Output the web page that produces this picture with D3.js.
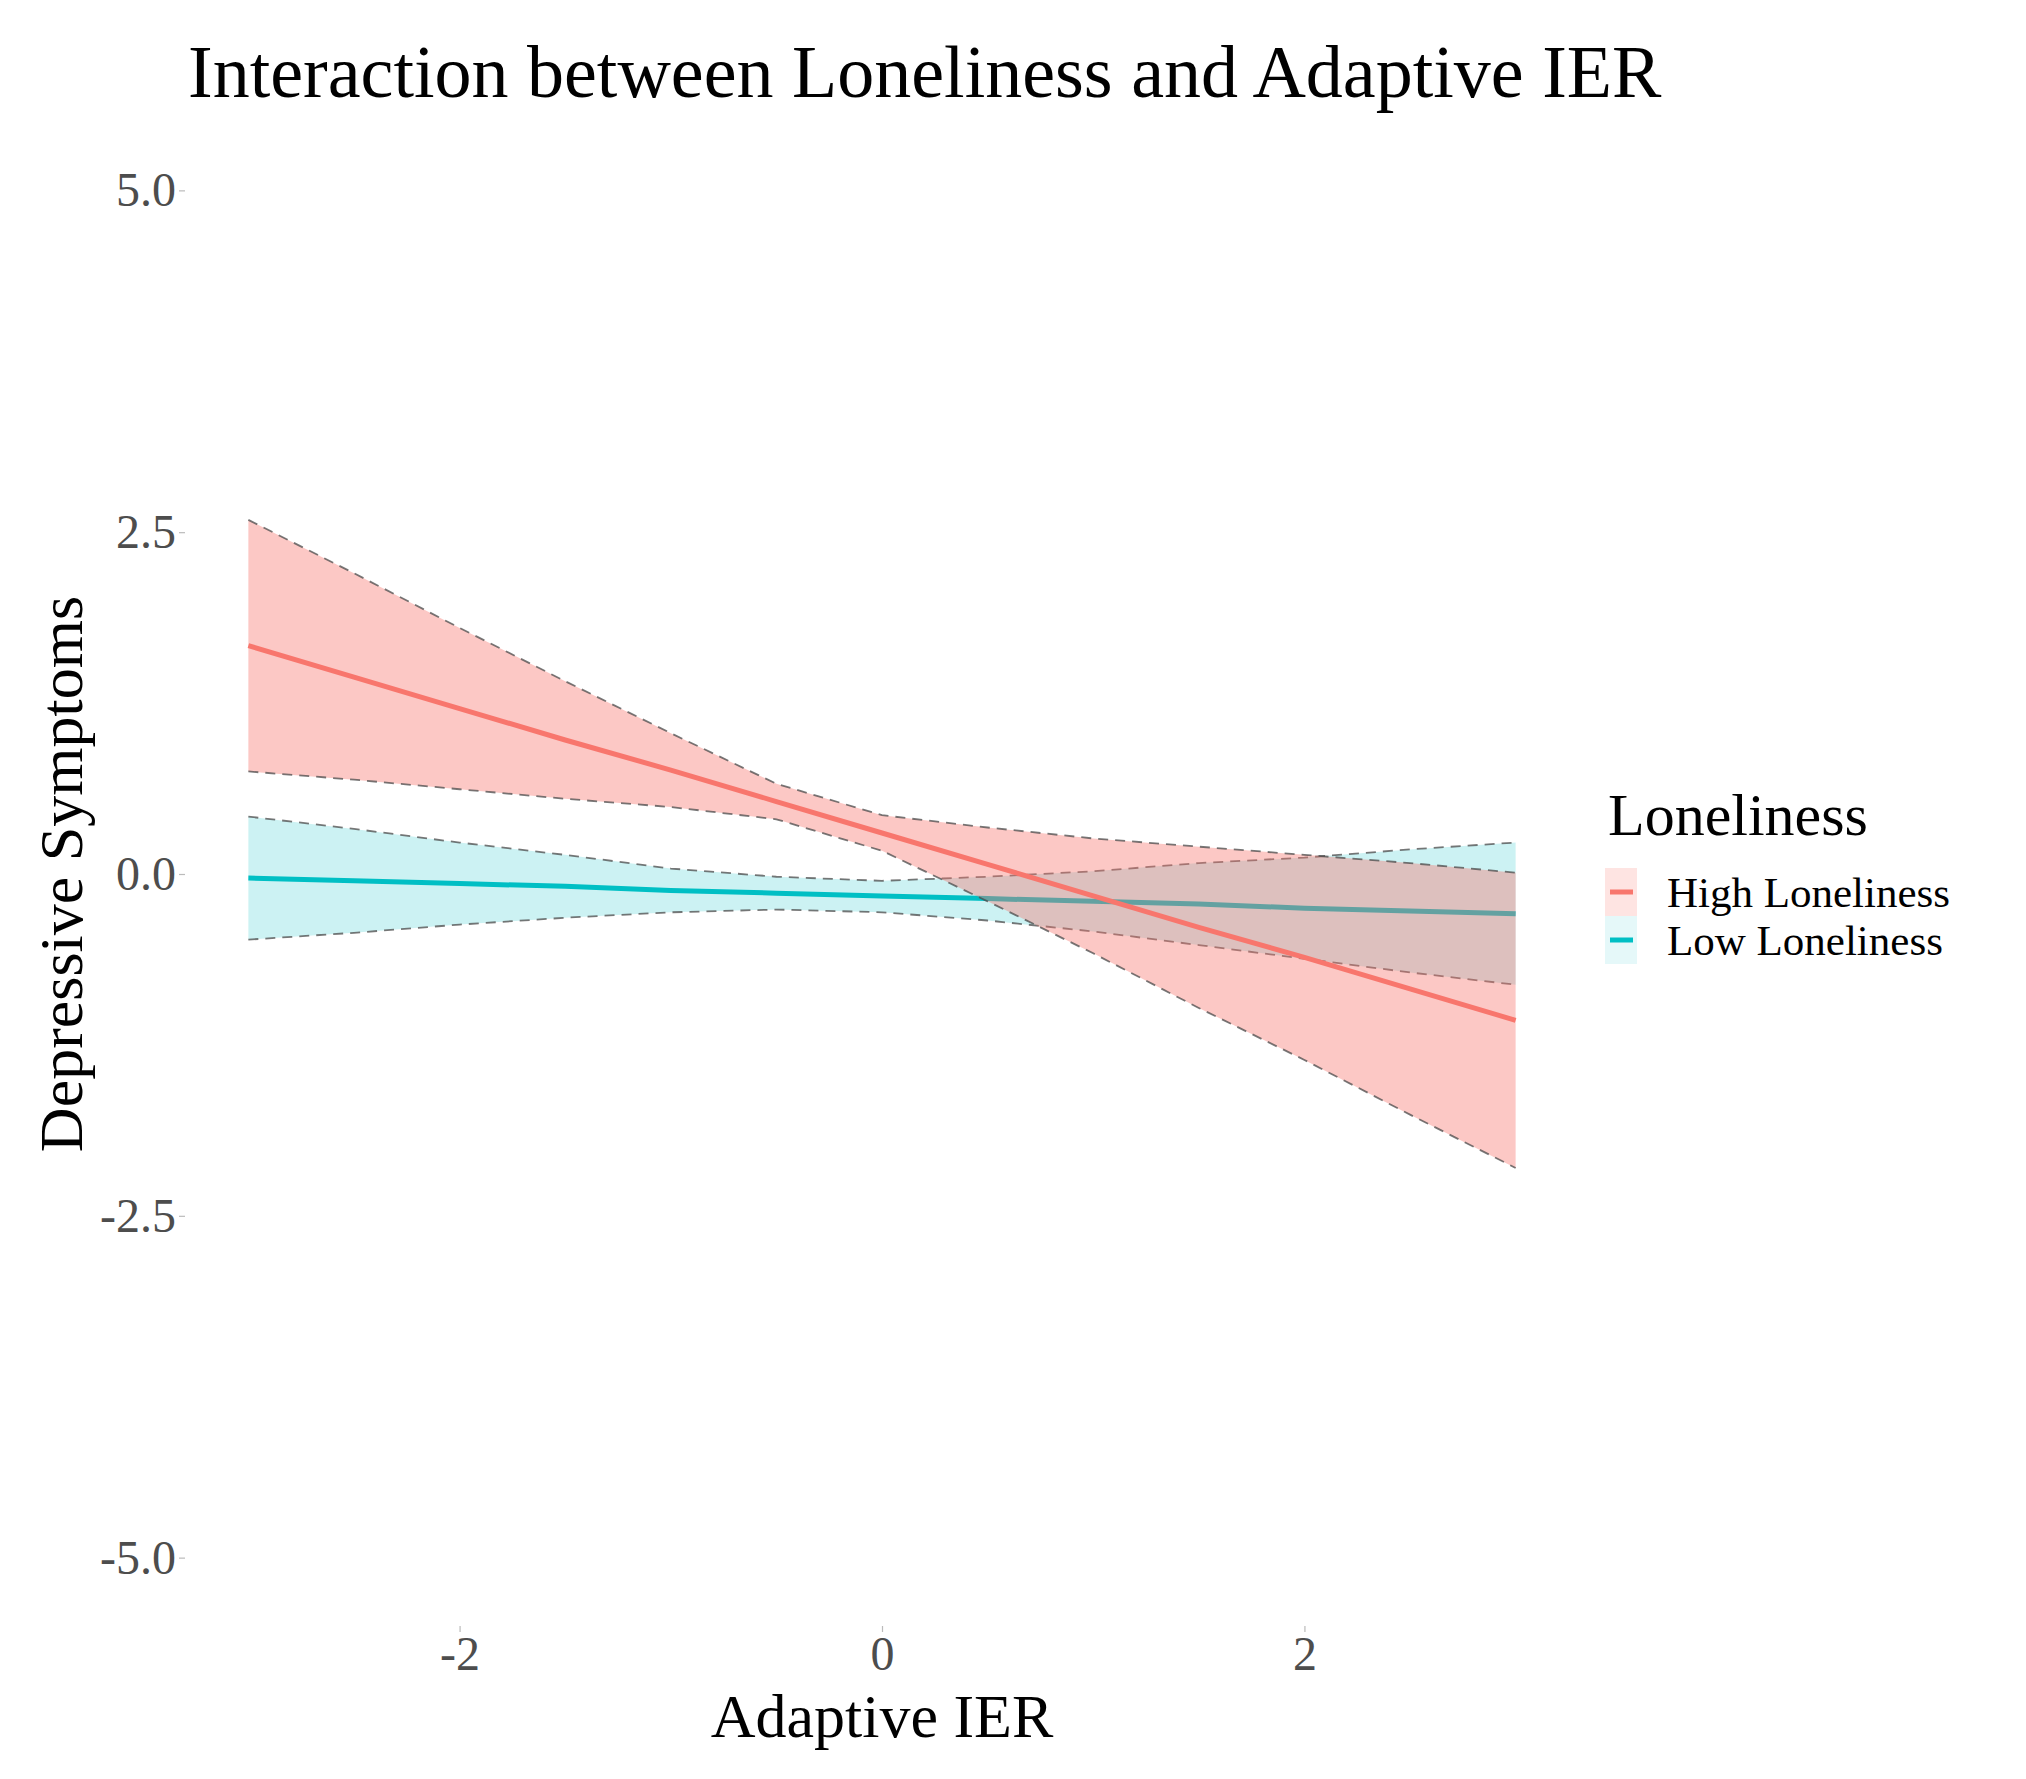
<!DOCTYPE html>
<html>
<head>
<meta charset="utf-8">
<script src="https://cdn.jsdelivr.net/npm/d3@7"></script>
<style>
  html, body { margin: 0; padding: 0; background: #fff; }
  svg text { font-family: "Liberation Serif", "Times New Roman", serif; }
</style>
</head>
<body>
<div id="chart"></div>
<script>
// --- Data ---
const xValues = [-3, -2.5, -2, -1.5, -1, -0.5, 0, 0.5, 1, 1.5, 2, 2.5, 3];

const highFit   = [1.67, 1.44, 1.21, 0.98, 0.76, 0.53, 0.30, 0.07, -0.16, -0.39, -0.61, -0.84, -1.07];
const highLower = [0.75, 0.69, 0.62, 0.55, 0.49, 0.40, 0.17, -0.20, -0.58, -0.98, -1.36, -1.76, -2.15];
const highUpper = [2.59, 2.20, 1.80, 1.41, 1.03, 0.66, 0.43, 0.34, 0.26, 0.20, 0.14, 0.08, 0.01];

const lowFit   = [-0.03, -0.05, -0.07, -0.09, -0.12, -0.14, -0.16, -0.18, -0.20, -0.22, -0.25, -0.27, -0.29];
const lowLower = [-0.48, -0.43, -0.37, -0.32, -0.28, -0.26, -0.28, -0.34, -0.42, -0.52, -0.62, -0.72, -0.81];
const lowUpper = [0.42, 0.33, 0.23, 0.14, 0.04, -0.02, -0.05, -0.02, 0.02, 0.08, 0.12, 0.18, 0.23];

const groups = ["High Loneliness", "Low Loneliness"];
const xTicks = [-2, 0, 2];
const yTicks = [-5, -2.5, 0, 2.5, 5];

// --- Setup ---
const W = 2026, H = 1779;
const svg = d3.select("#chart").append("svg")
    .attr("width", W)
    .attr("height", H);

const x = d3.scaleLinear().domain([-3.3, 3.3]).range([185, 1579]);
const y = d3.scaleLinear().domain([-5.5, 5.5]).range([1626, 122]);

const color = d3.scaleOrdinal().domain(groups).range(["#F8766D", "#00BFC4"]);
const fillAlpha = { "High Loneliness": 0.4, "Low Loneliness": 0.2 };

// plain hyphen for negatives, like the reference
const fmtY = d => d.toFixed(1);
const fmtX = d => String(d);

function rows(fit, lo, hi) {
    return xValues.map((v, i) => ({ x: v, fit: fit[i], lo: lo[i], hi: hi[i] }));
}
const series = [
    { name: "Low Loneliness", data: rows(lowFit, lowLower, lowUpper) },
    { name: "High Loneliness", data: rows(highFit, highLower, highUpper) }
];

const area = d3.area().x(d => x(d.x)).y0(d => y(d.lo)).y1(d => y(d.hi));
const upperLine = d3.line().x(d => x(d.x)).y(d => y(d.hi));
const lowerLine = d3.line().x(d => x(d.x)).y(d => y(d.lo));
const fitLine = d3.line().x(d => x(d.x)).y(d => y(d.fit));

// low group first, then high on top (red ribbon covers teal line)
series.forEach(s => {
    const g = svg.append("g");
    g.append("path")
        .attr("d", area(s.data))
        .attr("fill", color(s.name))
        .attr("fill-opacity", fillAlpha[s.name]);
    [upperLine, lowerLine].forEach(fn => {
        g.append("path")
            .attr("d", fn(s.data))
            .attr("fill", "none")
            .attr("stroke", "#4a4a4a")
            .attr("stroke-opacity", 0.75)
            .attr("stroke-width", 1.8)
            .attr("stroke-dasharray", "10,7");
    });
    g.append("path")
        .attr("d", fitLine(s.data))
        .attr("fill", "none")
        .attr("stroke", color(s.name))
        .attr("stroke-width", 5);
});

// --- Axes ---
const yAxis = svg.append("g")
    .attr("transform", `translate(${x.range()[0]},0)`)
    .call(d3.axisLeft(y).tickValues(yTicks).tickFormat(fmtY).tickSize(6).tickPadding(3));
const xAxis = svg.append("g")
    .attr("transform", `translate(0,${y.range()[0]})`)
    .call(d3.axisBottom(x).tickValues(xTicks).tickFormat(fmtX).tickSize(6).tickPadding(4));

[xAxis, yAxis].forEach(a => {
    a.select(".domain").remove();
    a.selectAll(".tick line").attr("stroke", "#bbb").attr("stroke-width", 1.2);
    a.selectAll(".tick text")
        .attr("fill", "#4D4D4D")
        .style("font-size", "48px");
});

// --- Titles ---
svg.append("text")
    .attr("x", 188)
    .attr("y", 97)
    .style("font-size", "74px")
    .attr("fill", "#000")
    .text("Interaction between Loneliness and Adaptive IER");

svg.append("text")
    .attr("x", (x.range()[0] + x.range()[1]) / 2)
    .attr("y", 1737)
    .attr("text-anchor", "middle")
    .style("font-size", "62px")
    .text("Adaptive IER");

svg.append("text")
    .attr("transform", `translate(82,${(y.range()[0] + y.range()[1]) / 2}) rotate(-90)`)
    .attr("text-anchor", "middle")
    .style("font-size", "62px")
    .text("Depressive Symptoms");

// --- Legend ---
const legend = svg.append("g").attr("transform", "translate(1605,0)");
legend.append("text")
    .attr("x", 3)
    .attr("y", 835)
    .style("font-size", "60px")
    .text("Loneliness");

groups.forEach((name, i) => {
    const top = 868 + i * 48;
    legend.append("rect")
        .attr("x", 0).attr("y", top)
        .attr("width", 32).attr("height", 48)
        .attr("fill", color(name))
        .attr("fill-opacity", fillAlpha[name] * 0.5);
    legend.append("line")
        .attr("x1", 5).attr("x2", 28)
        .attr("y1", top + 24).attr("y2", top + 24)
        .attr("stroke", color(name))
        .attr("stroke-width", 5);
    legend.append("text")
        .attr("x", 62)
        .attr("y", 907 + i * 48)
        .style("font-size", "43px")
        .text(name);
});
</script>
</body>
</html>
